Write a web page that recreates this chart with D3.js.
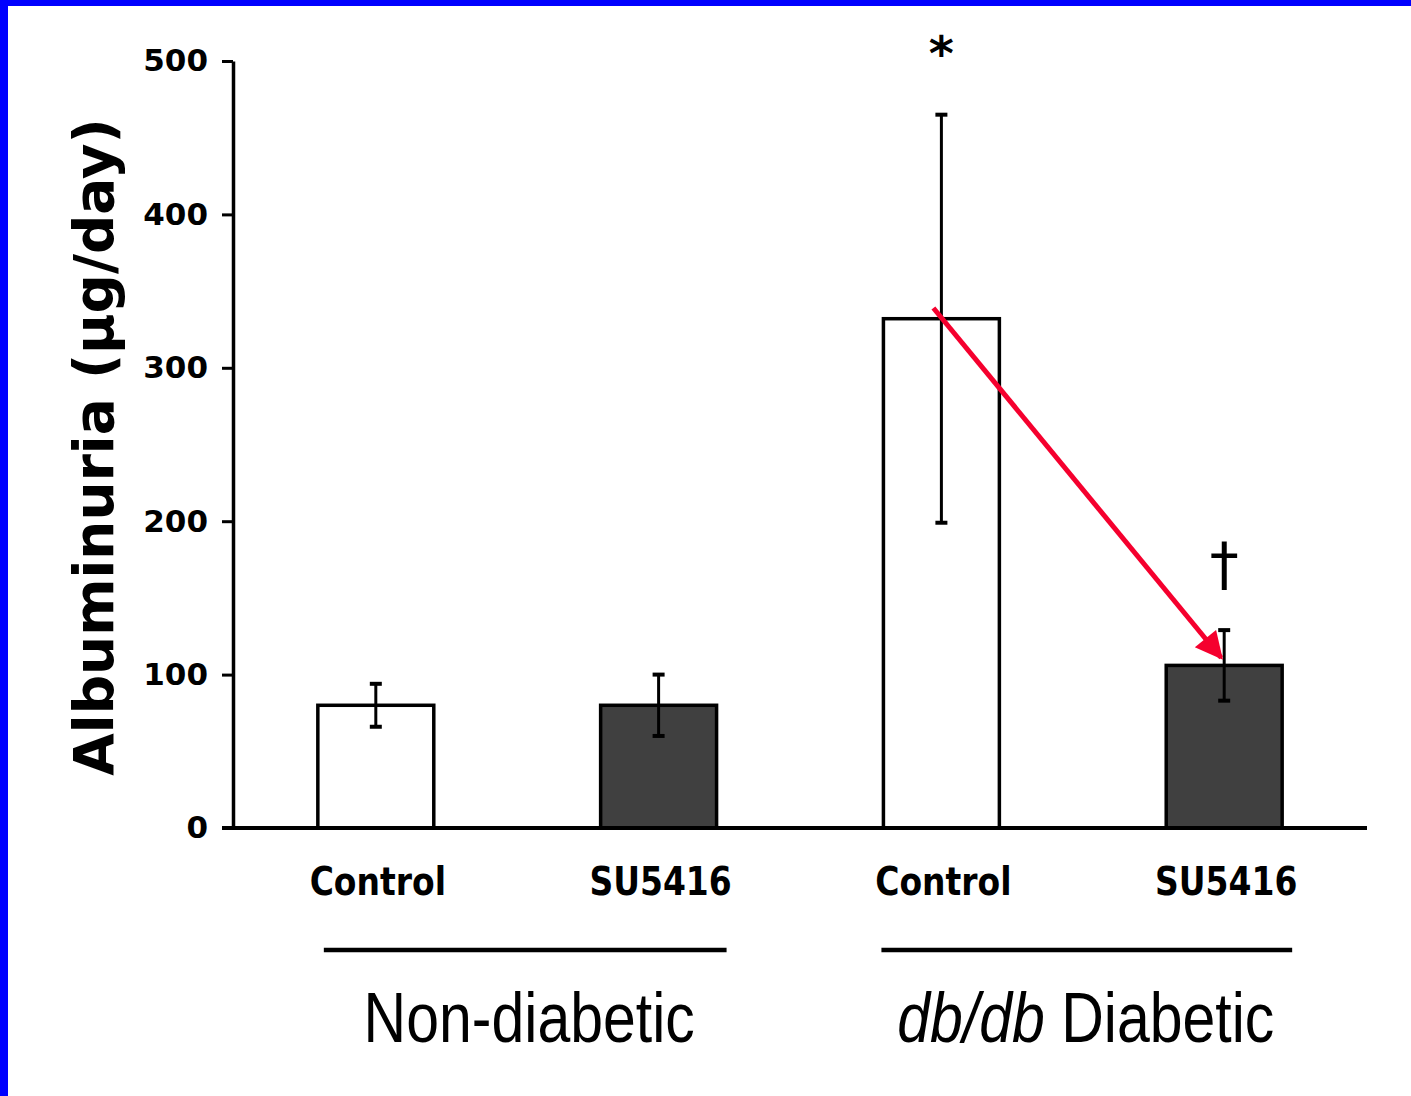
<!DOCTYPE html>
<html>
<head>
<meta charset="utf-8">
<script src="https://cdn.jsdelivr.net/npm/d3@7"></script>
<style>
  body { margin: 0; background: #fff; }
  svg { display: block; }
</style>
</head>
<body>
<script>
// values
var barIds = ["nd-control", "nd-su5416", "db-control", "db-su5416"];
var barLabels = ["Control", "SU5416", "Control", "SU5416"];
var means = [80, 80, 332, 106];
var errors = [14, 20, 133, 23];
var barFills = ["#ffffff", "#404040", "#ffffff", "#404040"];
var marks = ["", "", "*", "\u2020"];
var markValues = [null, null, 505, 172];
var yTicks = [0, 100, 200, 300, 400, 500];
var groupNames = ["Non-diabetic", "db/db Diabetic"];
var groupMembers = [["nd-control", "nd-su5416"], ["db-control", "db-su5416"]];
// red arrow: from db control to db SU5416 (value units)
var arrowFrom = ["db-control", 339];
var arrowTo = ["db-su5416", 111];

var W = 1411, H = 1096;

var svg = d3.select("body").append("svg")
    .attr("width", W)
    .attr("height", H);

svg.append("rect").attr("width", W).attr("height", H).attr("fill", "#fff");
// blue frame (left and top only)
svg.append("rect").attr("x", 0).attr("y", 0).attr("width", 8).attr("height", H).attr("fill", "#0000ff");
svg.append("rect").attr("x", 0).attr("y", 0).attr("width", W).attr("height", 6).attr("fill", "#0000ff");

var x0 = 233, x1 = 1367;
var x = d3.scaleBand()
    .domain(barIds)
    .range([x0, x1])
    .paddingInner(0.59)
    .paddingOuter(0.3);

var y = d3.scaleLinear()
    .domain([0, 500])
    .range([828, 61]);

var boldFont = "'DejaVu Sans', Verdana, sans-serif";
var plainFont = "'Liberation Sans', Arial, sans-serif";

// bars
svg.selectAll(".bar")
    .data(barIds)
    .enter().append("rect")
    .attr("class", "bar")
    .attr("x", function(d) { return x(d); })
    .attr("y", function(d, i) { return y(means[i]); })
    .attr("width", x.bandwidth())
    .attr("height", function(d, i) { return y(0) - y(means[i]); })
    .attr("fill", function(d, i) { return barFills[i]; })
    .attr("stroke", "#000")
    .attr("stroke-width", 3.5);

// error bars
var eb = svg.selectAll(".err")
    .data(barIds)
    .enter().append("g")
    .attr("class", "err");

eb.append("line")
    .attr("x1", function(d) { return x(d) + x.bandwidth() / 2; })
    .attr("x2", function(d) { return x(d) + x.bandwidth() / 2; })
    .attr("y1", function(d, i) { return y(means[i] + errors[i]); })
    .attr("y2", function(d, i) { return y(means[i] - errors[i]); })
    .attr("stroke", "#000")
    .attr("stroke-width", 3);

[1, -1].forEach(function(s) {
  eb.append("line")
      .attr("x1", function(d) { return x(d) + x.bandwidth() / 2 - 6; })
      .attr("x2", function(d) { return x(d) + x.bandwidth() / 2 + 6; })
      .attr("y1", function(d, i) { return y(means[i] + s * errors[i]); })
      .attr("y2", function(d, i) { return y(means[i] + s * errors[i]); })
      .attr("stroke", "#000")
      .attr("stroke-width", 4);
});

// y axis
var yAxis = svg.append("g")
    .attr("transform", "translate(" + x0 + ",0)")
    .call(d3.axisLeft(y).tickValues(yTicks).tickSize(11).tickPadding(14).tickSizeOuter(0));
yAxis.select(".domain").attr("stroke", "#000").attr("stroke-width", 3.5);
yAxis.selectAll(".tick line").attr("stroke", "#000").attr("stroke-width", 3);
yAxis.selectAll(".tick text")
    .attr("font-family", boldFont)
    .attr("font-weight", "bold")
    .attr("font-size", 31)
    .attr("fill", "#000");

// x axis line
svg.append("line")
    .attr("x1", x0 - 11)
    .attr("x2", x1)
    .attr("y1", y(0))
    .attr("y2", y(0))
    .attr("stroke", "#000")
    .attr("stroke-width", 4);

// category labels
svg.selectAll(".cat")
    .data(barIds)
    .enter().append("text")
    .attr("class", "cat")
    .attr("transform", function(d) { return "translate(" + (x(d) + x.bandwidth() / 2 + 2) + ",895) scale(1,1.2)"; })
    .attr("text-anchor", "middle")
    .attr("font-family", boldFont)
    .attr("font-weight", "bold")
    .attr("font-size", 33)
    .attr("fill", "#000")
    .text(function(d, i) { return barLabels[i]; });

// group lines and names
var lineStartShift = [6, -2], labelShift = [12, 3];
groupMembers.forEach(function(m, gi) {
  var a = x(m[0]), b = x(m[1]) + x.bandwidth();
  svg.append("line")
      .attr("x1", a + lineStartShift[gi]).attr("x2", b + 10)
      .attr("y1", 950).attr("y2", 950)
      .attr("stroke", "#000")
      .attr("stroke-width", 4.5);

  var t = svg.append("text")
      .attr("transform", "translate(" + ((a + b) / 2 + labelShift[gi]) + ",1042) scale(1,1.18)")
      .attr("text-anchor", "middle")
      .attr("font-family", plainFont)
      .attr("font-size", 59)
      .attr("fill", "#000");
  if (gi === 1) {
    var parts = groupNames[gi].split(" ");
    t.append("tspan").attr("font-style", "italic").text(parts[0]);
    t.append("tspan").text(" " + parts.slice(1).join(" "));
  } else {
    t.text(groupNames[gi]);
  }
});

// y axis title
svg.append("text")
    .attr("transform", "translate(113,447) rotate(-90)")
    .attr("text-anchor", "middle")
    .attr("font-family", boldFont)
    .attr("font-weight", "bold")
    .attr("font-size", 55)
    .attr("fill", "#000")
    .text("Albuminuria (\u00b5g/day)");

// significance marks
svg.selectAll(".mark")
    .data(barIds.filter(function(d, i) { return marks[i]; }))
    .enter().append("text")
    .attr("class", "mark")
    .attr("x", function(d) { return x(d) + x.bandwidth() / 2; })
    .attr("y", function(d) { return y(markValues[barIds.indexOf(d)]); })
    .attr("text-anchor", "middle")
    .attr("dominant-baseline", "central")
    .attr("font-family", boldFont)
    .attr("font-weight", function(d) { return marks[barIds.indexOf(d)] === "*" ? "bold" : "normal"; })
    .attr("font-size", function(d) { return marks[barIds.indexOf(d)] === "*" ? 48 : 58; })
    .attr("fill", "#000")
    .text(function(d) { return marks[barIds.indexOf(d)]; });

// red arrow
svg.append("defs").append("marker")
    .attr("id", "head")
    .attr("viewBox", "0 0 10 10")
    .attr("refX", 9)
    .attr("refY", 5)
    .attr("markerWidth", 6.5)
    .attr("markerHeight", 5.5)
    .attr("markerUnits", "strokeWidth")
    .attr("orient", "auto")
    .append("path")
    .attr("d", "M0,0 L10,5 L0,10 Z")
    .attr("fill", "#f5002e");

svg.append("line")
    .attr("x1", x(arrowFrom[0]) + x.bandwidth() / 2 - 8)
    .attr("y1", y(arrowFrom[1]))
    .attr("x2", x(arrowTo[0]) + x.bandwidth() / 2 - 3)
    .attr("y2", y(arrowTo[1]))
    .attr("stroke", "#f5002e")
    .attr("stroke-width", 5)
    .attr("marker-end", "url(#head)");
</script>
</body>
</html>
